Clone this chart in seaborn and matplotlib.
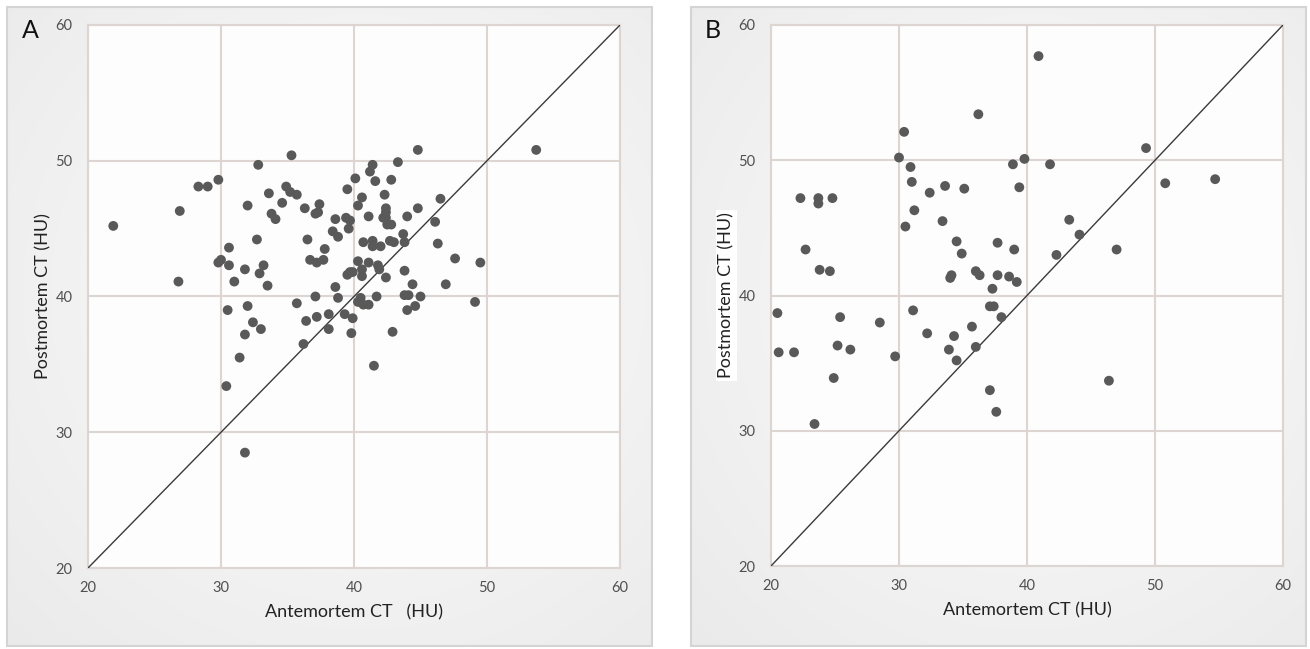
import numpy as np
import pandas as pd
import matplotlib
matplotlib.use("Agg")
import matplotlib.pyplot as plt
from matplotlib.patches import Rectangle
import seaborn as sns

# panel A: antemortem vs postmortem CT (HU)
ante_a = [21.9, 26.9, 26.8, 28.3, 29.0, 29.8, 29.8, 30.0, 30.6, 30.6, 31.0, 31.8, 30.5, 30.4,
          31.4, 31.8, 31.8, 32.0, 32.0, 32.4, 32.7, 32.8, 32.9, 33.2, 33.0, 33.5, 33.6, 33.8,
          34.1, 34.6, 34.9, 35.2, 35.7, 35.3, 35.7, 36.2, 36.3, 36.5, 36.4, 36.7, 37.2, 37.7,
          37.4, 37.1, 37.3, 37.8, 37.1, 37.2, 38.1, 38.1, 38.4, 38.8, 38.6, 38.6, 38.8, 39.3,
          39.4, 39.7, 39.6, 39.5, 39.5, 39.7, 39.9, 39.8, 39.9, 40.1, 40.3, 40.6, 40.3, 40.6,
          40.6, 40.7, 40.5, 40.3, 40.7, 41.1, 41.1, 41.1, 41.2, 41.4, 41.6, 41.4, 41.4, 41.7,
          41.8, 41.9, 41.5, 42.0, 42.2, 42.4, 42.4, 42.4, 42.3, 42.4, 42.5, 42.8, 42.8, 42.7,
          43.0, 42.9, 43.3, 43.7, 43.8, 43.8, 43.8, 44.1, 44.0, 44.0, 44.4, 44.6, 44.8, 44.8,
          45.0, 46.1, 46.3, 46.5, 46.9, 47.6, 49.1, 49.5, 53.7]
post_a = [45.2, 46.3, 41.1, 48.1, 48.1, 48.6, 42.5, 42.7, 43.6, 42.3, 41.1, 42.0, 39.0, 33.4,
          35.5, 37.2, 28.5, 46.7, 39.3, 38.1, 44.2, 49.7, 41.7, 42.3, 37.6, 40.8, 47.6, 46.1,
          45.7, 46.9, 48.1, 47.7, 47.5, 50.4, 39.5, 36.5, 46.5, 44.2, 38.2, 42.7, 42.5, 42.7,
          46.8, 46.1, 46.2, 43.5, 40.0, 38.5, 38.7, 37.6, 44.8, 44.4, 45.7, 40.7, 39.9, 38.7,
          45.8, 45.6, 45.0, 47.9, 41.6, 41.8, 41.8, 37.3, 38.4, 48.7, 46.7, 47.3, 42.6, 42.0,
          41.5, 44.0, 39.9, 39.6, 39.4, 39.4, 42.5, 45.9, 49.2, 49.7, 48.5, 44.1, 43.7, 40.0,
          42.3, 42.0, 34.9, 43.7, 45.8, 45.8, 46.5, 46.2, 47.5, 41.4, 45.3, 45.3, 48.6, 44.1,
          44.0, 37.4, 49.9, 44.6, 44.0, 41.9, 40.1, 40.1, 45.9, 39.0, 40.9, 39.3, 46.5, 50.8,
          40.0, 45.5, 43.9, 47.2, 40.9, 42.8, 39.6, 42.5, 50.8]

# panel B
ante_b = [20.5, 20.6, 21.8, 22.3, 22.7, 23.4, 23.7, 23.7, 23.8, 24.6, 24.8, 24.9, 25.2, 25.4,
          26.2, 28.5, 29.7, 30.0, 30.4, 30.5, 30.9, 31.0, 31.1, 31.2, 32.2, 32.4, 33.4, 33.6,
          33.9, 34.1, 34.0, 34.3, 34.5, 34.5, 34.9, 35.1, 35.7, 36.0, 36.0, 36.3, 36.2, 37.1,
          37.1, 37.4, 37.3, 37.6, 37.7, 37.7, 38.0, 38.6, 38.9, 39.0, 39.2, 39.4, 39.8, 40.9,
          41.8, 42.3, 43.3, 44.1, 46.4, 47.0, 49.3, 50.8, 54.7]
post_b = [38.7, 35.8, 35.8, 47.2, 43.4, 30.5, 47.2, 46.8, 41.9, 41.8, 47.2, 33.9, 36.3, 38.4,
          36.0, 38.0, 35.5, 50.2, 52.1, 45.1, 49.5, 48.4, 38.9, 46.3, 37.2, 47.6, 45.5, 48.1,
          36.0, 41.5, 41.3, 37.0, 44.0, 35.2, 43.1, 47.9, 37.7, 36.2, 41.8, 41.5, 53.4, 33.0,
          39.2, 39.2, 40.5, 31.4, 43.9, 41.5, 38.4, 41.4, 49.7, 43.4, 41.0, 48.0, 50.1, 57.7,
          49.7, 43.0, 45.6, 44.5, 33.7, 43.4, 50.9, 48.3, 48.6]

ticks = [20, 30, 40, 50, 60]

sns.set_theme(style="white")
plt.rcParams['font.family'] = ['Lato', 'DejaVu Sans']

W, H = 1310, 649
fig = plt.figure(figsize=(W / 100, H / 100), dpi=100)
fig.patch.set_facecolor("white")

# gradient panel backgrounds (pixel coords)
bg = fig.add_axes([0, 0, 1, 1], zorder=-5)
bg.set_xlim(0, W)
bg.set_ylim(H, 0)
bg.axis("off")


def panel_bg(x0, y0, x1, y1):
    yy, xx = np.mgrid[0:1:200j, 0:1:200j]
    r = np.sqrt((xx - 0.55) ** 2 + (yy - 0.45) ** 2)
    g = 0.985 - 0.09 * r
    bg.imshow(g, cmap="gray", vmin=0, vmax=1, extent=(x0, x1, y1, y0),
              aspect="auto", interpolation="bilinear")
    bg.add_patch(Rectangle((x0, y0), x1 - x0, y1 - y0, fill=False,
                           edgecolor="#d4d4d4", lw=1.5))


panel_bg(7, 7, 652, 646)
panel_bg(691, 7, 1306, 646)

grid_c = "#ddd5d2"
dot_c = "#595959"
tick_c = "#505050"


def setup(ax, xlabel, letter, letter_x):
    ax.set_xlim(20, 60)
    ax.set_ylim(20, 60)
    ax.set_xticks(ticks)
    ax.set_yticks(ticks)
    ax.set_facecolor("#fdfdfd")
    ax.grid(True, color=grid_c, lw=1.5)
    ax.set_axisbelow(True)
    for s in ax.spines.values():
        s.set_color(grid_c)
        s.set_linewidth(1.5)
    ax.tick_params(length=0, labelsize=10.5, colors=tick_c)
    ax.tick_params(axis="x", pad=9)
    ax.tick_params(axis="y", pad=11)
    ax.plot([20, 60], [20, 60], color="#3a3a3a", lw=1.0, zorder=3)
    ax.set_xlabel(xlabel, fontsize=13, color="#222222", labelpad=7)
    ax.set_ylabel("Postmortem CT (HU)", fontsize=13, color="#222222", labelpad=3)
    fig.text(letter_x / W, 1 - 30 / H, letter, fontsize=18, color="#111111",
             ha="left", va="center")


ax_a = fig.add_axes([88 / W, 1 - 568 / H, (620 - 88) / W, (568 - 25) / H])
df_a = pd.DataFrame({"ante": ante_a, "post": post_a})
sns.scatterplot(data=df_a, x="ante", y="post", ax=ax_a, color=dot_c, s=50,
                edgecolor="none", zorder=4)
setup(ax_a, "Antemortem CT   (HU)", "A", 22)

ax_b = fig.add_axes([771 / W, 1 - 566 / H, (1283 - 771) / W, (566 - 25) / H])
df_b = pd.DataFrame({"ante": ante_b, "post": post_b})
sns.scatterplot(data=df_b, x="ante", y="post", ax=ax_b, color=dot_c, s=50,
                edgecolor="none", zorder=4)
setup(ax_b, "Antemortem CT (HU)", "B", 705)
ax_b.yaxis.label.set_bbox(dict(facecolor="white", edgecolor="none", pad=2))

fig.savefig("out.png", dpi=100)
